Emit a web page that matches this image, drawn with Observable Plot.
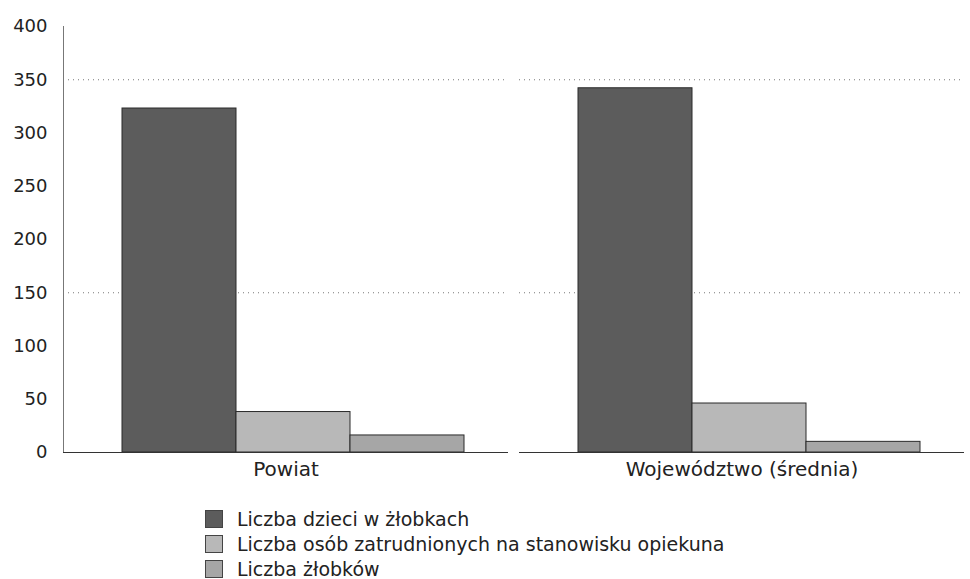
<!DOCTYPE html>
<html>
<head>
<meta charset="utf-8">
<script src="https://cdn.jsdelivr.net/npm/d3@7"></script>
<script src="https://cdn.jsdelivr.net/npm/@observablehq/plot@0.6"></script>
<style>
  html, body { margin: 0; padding: 0; background: #fff; }
  #chart svg { display: block; }
  .legend { margin: 21px 0 0 205px; font-family: "DejaVu Sans", sans-serif; font-size: 19px; color: #222; line-height: 24px; }
  .legend .item { display: flex; align-items: center; height: 25px; }
  .legend .sw { width: 18px; height: 18px; margin-right: 14px; box-sizing: border-box; border: 1px solid #444; }
</style>
</head>
<body>
<div id="chart"></div>
<script>
const categories = ["Powiat", "Województwo (średnia)"];
const series = [
  "Liczba dzieci w żłobkach",
  "Liczba osób zatrudnionych na stanowisku opiekuna",
  "Liczba żłobków"
];
const childrenValues = [323, 342];
const staffValues = [38, 46];
const nurseriesValues = [16, 10];
const yTicks = [0, 50, 100, 150, 200, 250, 300, 350, 400];
const gridTicks = [150, 350];

const seriesColors = ["#5c5c5c", "#b8b8b8", "#a6a6a6"];

const valuesBySeries = [childrenValues, staffValues, nurseriesValues];
const rows = [];
categories.forEach((c, i) => {
  series.forEach((s, j) => rows.push({category: c, series: s, value: valuesBySeries[j][i]}));
});

const chart = Plot.plot({
  width: 970,
  height: 485,
  marginLeft: 62,
  marginRight: 5,
  marginTop: 26,
  marginBottom: 33,
  style: {fontFamily: "DejaVu Sans, sans-serif", color: "#222", background: "#fff"},
  fx: {domain: categories, paddingInner: 0.024, paddingOuter: 0, label: null},
  x: {domain: series, paddingInner: 0, paddingOuter: 0.4446, align: 0.569, axis: null},
  y: {domain: [0, 400], label: null},
  color: {domain: series, range: seriesColors},
  marks: [
    Plot.ruleY(gridTicks, {stroke: "#777", strokeDasharray: "1,4", strokeWidth: 1}),
    Plot.frame({anchor: "left", stroke: "#777", strokeDasharray: "1,1", facetAnchor: "left"}),
    Plot.barY(rows, {fx: "category", x: "series", y: "value", fill: "series", stroke: "#2a2a2a", strokeWidth: 1}),
    Plot.ruleY([0], {stroke: "#333", strokeWidth: 1.2}),
    Plot.axisY({ticks: yTicks, tickSize: 0, tickPadding: 16, fontSize: 18, label: null}),
    Plot.axisFx({anchor: "bottom", tickSize: 0, tickPadding: 9, fontSize: 20, label: null})
  ]
});
document.getElementById("chart").appendChild(chart);

const legend = document.createElement("div");
legend.className = "legend";
series.forEach((s, j) => {
  const item = document.createElement("div");
  item.className = "item";
  const sw = document.createElement("span");
  sw.className = "sw";
  sw.style.background = seriesColors[j];
  const t = document.createElement("span");
  t.textContent = s;
  item.appendChild(sw);
  item.appendChild(t);
  legend.appendChild(item);
});
document.body.appendChild(legend);
</script>
</body>
</html>
